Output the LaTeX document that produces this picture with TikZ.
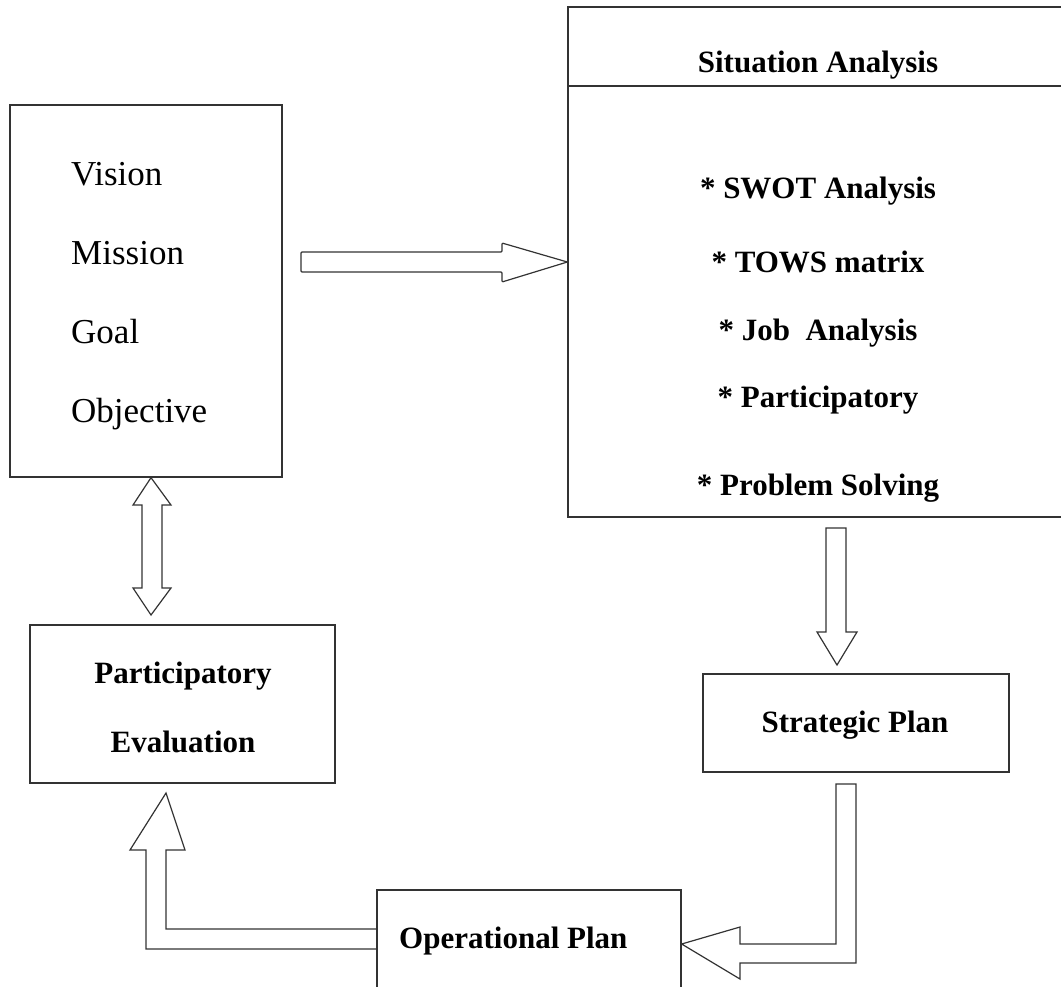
\documentclass[tikz,border=0pt]{standalone}
\usepackage{fontspec}
\setmainfont{Liberation Serif}
\tikzset{
  box/.style={draw=black!80, line width=1.3pt, fill=none, inner sep=0pt},
  blk/.style={draw=black!80, line width=1.2pt, line join=miter},
  reg/.style={font=\fontsize{35}{40}\selectfont, inner sep=0pt},
  bld/.style={font=\fontsize{31}{36}\selectfont\bfseries, inner sep=0pt},
}
\begin{document}
\begin{tikzpicture}[x=1pt,y=-1pt]
\useasboundingbox (0,0) rectangle (1061,986);
\clip (0,0) rectangle (1061,986);
% boxes
\node[box, minimum width=272pt, minimum height=372pt] (vmgo) at (146,291) {};
\node[box, minimum width=510pt, minimum height=510pt] (sit) at (823,262) {};
\draw[black!80, line width=1.3pt] (sit.west |- 0,86) coordinate (hl) -- (sit.east |- 0,86) coordinate (hr);
\node[box, minimum width=305pt, minimum height=158pt] (peval) at (182.5,704) {};
\node[box, minimum width=306pt, minimum height=98pt] (strat) at (856,723) {};
\node[box, minimum width=304pt, minimum height=120pt] (oper) at (529,950) {};
% texts
\node[reg, anchor=base west] (t1) at (71,185) {Vision};
\node[reg, anchor=base west] (t2) at (71,264) {Mission};
\node[reg, anchor=base west] (t3) at (71,343) {Goal};
\node[reg, anchor=base west] (t4) at (71,422) {Objective};
\node[bld, anchor=base] (sh) at (818,72) {Situation Analysis};
\node[bld, anchor=base] (s1) at (818,198) {* SWOT Analysis};
\node[bld, anchor=base] (s2) at (818,272) {* TOWS matrix};
\node[bld, anchor=base] (s3) at (818,340) {* Job~ Analysis};
\node[bld, anchor=base] (s4) at (818,407) {* Participatory};
\node[bld, anchor=base] (s5) at (818,495) {* Problem Solving};
\node[bld, anchor=base] (p1) at (183,683) {Participatory};
\node[bld, anchor=base] (p2) at (183,752) {Evaluation};
\node[bld, anchor=base] (sp) at (855,732) {Strategic Plan};
\node[bld, anchor=base west] (op) at (399,948) {Operational Plan};
% block arrows
% vmgo -> situation
\draw[blk, rounded corners=1pt] (301,252) -- (502,252) -- (502,243) -- (sit.west |- 0,262) -- (502,282) -- (502,272) -- (301,272) -- cycle;
% vmgo <-> participatory evaluation
\draw[blk] (vmgo.south -| 151,0) -- (171,505) -- (162,505) -- (162,588) -- (171,588) -- (151,615) -- (133,588) -- (142,588) -- (142,505) -- (133,505) -- cycle;
% situation -> strategic
\draw[blk] (826,528) -- (846,528) -- (846,632) -- (857,632) -- (837,665) -- (817,632) -- (826,632) -- cycle;
% strategic -> operational
\draw[blk] (836,784) -- (856,784) -- (856,963) -- (740,963) -- (740,979) -- (oper.east |- 0,944) -- (740,927) -- (740,944) -- (836,944) -- cycle;
% operational -> participatory evaluation
\draw[blk] (oper.west |- 0,929) -- (166,929) -- (166,850) -- (185,850) -- (166,793) -- (130,850) -- (146,850) -- (146,949) -- (oper.west |- 0,949);
\end{tikzpicture}
\end{document}
